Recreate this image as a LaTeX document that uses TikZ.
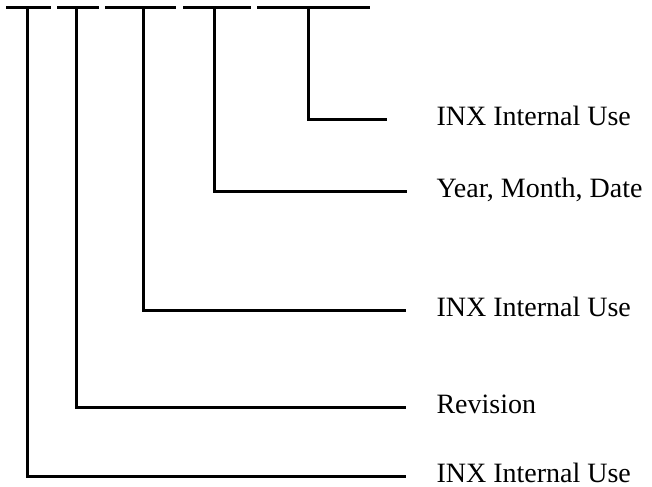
\documentclass[tikz,border=0pt]{standalone}
\usepackage{fontspec}
\setmainfont{Liberation Serif}
\begin{document}
\begin{tikzpicture}[x=0.75pt,y=-0.75pt,line width=2.25pt]
\tikzset{lbl/.style={anchor=base west,inner sep=0pt,font=\fontsize{21}{24}\selectfont}}
\useasboundingbox (0,0) rectangle (652,486);
% code field dashes
\draw (6,7) -- (51,7);
\draw (57,7) -- (99,7);
\draw (105,7) -- (176,7);
\draw (183,7) -- (251,7);
\draw (257,7) -- (370,7);
% drop points
\coordinate (c1) at (27,7);
\coordinate (c2) at (76,7);
\coordinate (c3) at (143,7);
\coordinate (c4) at (214,7);
\coordinate (c5) at (308,7);
% line ends
\coordinate (e1) at (406,476);
\coordinate (e2) at (406,407);
\coordinate (e3) at (406,310);
\coordinate (e4) at (407,191);
\coordinate (e5) at (387,119);
% labels
\node[lbl] (inx1) at (435,482) {INX Internal Use};
\node[lbl] (rev) at (435,413.5) {Revision};
\node[lbl] (inx3) at (435,316.5) {INX Internal Use};
\node[lbl] (ymd) at (435,197.5) {Year, Month, Date};
\node[lbl] (inx5) at (435,125.5) {INX Internal Use};
% brackets
\draw (c1) |- (e1);
\draw (c2) |- (e2);
\draw (c3) |- (e3);
\draw (c4) |- (e4);
\draw (c5) |- (e5);
\end{tikzpicture}
\end{document}
